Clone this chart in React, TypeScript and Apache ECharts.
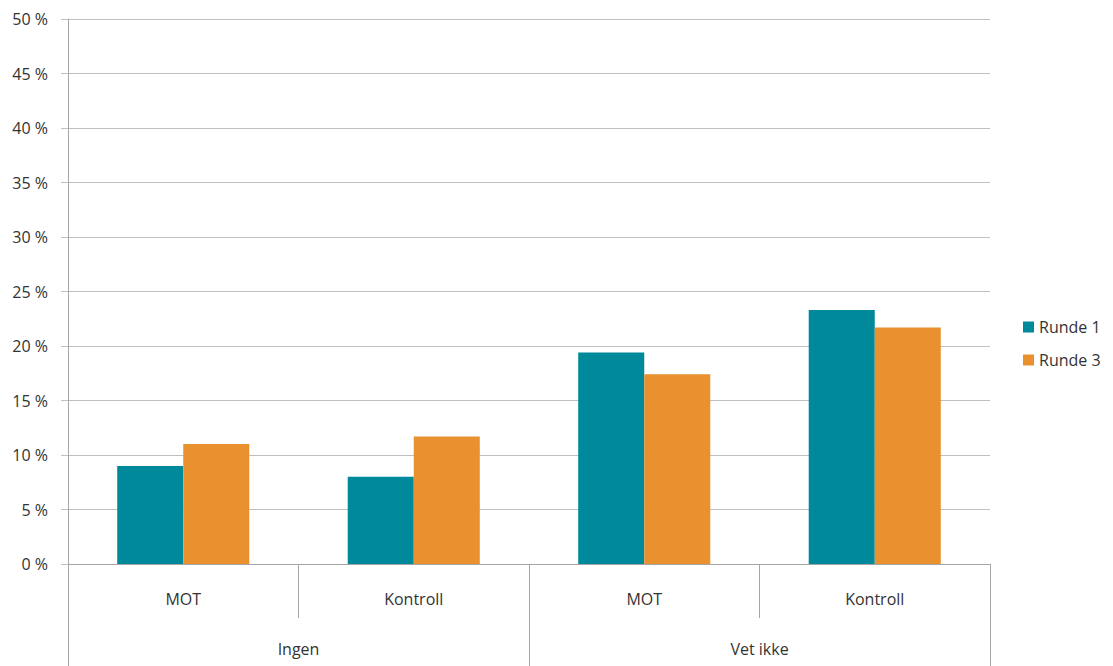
import React, { useEffect, useRef } from "react";
import * as echarts from "echarts";

const subCategories = ["MOT", "Kontroll", "MOT", "Kontroll"];
const groupCategories = ["Ingen", "Vet ikke"];
const runde1 = [9.0, 8.0, 19.4, 23.3];
const runde3 = [11.0, 11.7, 17.4, 21.7];
const seriesNames = ["Runde 1", "Runde 3"];
const yTicks = { min: 0, max: 50, interval: 5 };

const FONT = "'Open Sans', 'Liberation Sans', sans-serif";

export default function App() {
  const ref = useRef<HTMLDivElement>(null);
  useEffect(() => {
    if (!ref.current) return;
    const chart = echarts.init(ref.current, null, { renderer: "svg" });
    chart.setOption({
      animation: false,
      backgroundColor: "#ffffff",
      textStyle: { fontFamily: FONT },
      grid: { left: 68, right: 123, top: 19, bottom: 102, containLabel: false },
      legend: {
        orient: "vertical",
        left: 1018,
        top: 314,
        itemWidth: 11,
        itemHeight: 11,
        itemGap: 17,
        icon: "rect",
        textStyle: { fontSize: 16, color: "#333", fontFamily: FONT },
        data: seriesNames,
      },
      xAxis: [
        {
          type: "category",
          data: subCategories,
          position: "bottom",
          axisLine: { show: true, lineStyle: { color: "#a6a6a6", width: 1 } },
          axisTick: { show: true, interval: 0, length: 54, lineStyle: { color: "#a6a6a6" } },
          axisLabel: { interval: 0, margin: 27, fontSize: 16, color: "#333", fontFamily: FONT },
          splitLine: { show: false },
        },
        {
          type: "category",
          data: groupCategories,
          position: "bottom",
          axisLine: { show: false },
          axisTick: { show: true, interval: 0, length: 102, lineStyle: { color: "#a6a6a6" } },
          axisLabel: { interval: 0, margin: 77, fontSize: 16, color: "#333", fontFamily: FONT },
          splitLine: { show: false },
        },
      ],
      yAxis: {
        type: "value",
        min: yTicks.min,
        max: yTicks.max,
        interval: yTicks.interval,
        axisLine: { show: true, lineStyle: { color: "#a6a6a6" } },
        axisTick: { show: true, length: 7, lineStyle: { color: "#bfbfbf" } },
        axisLabel: { formatter: "{value} %", margin: 20, fontSize: 16, color: "#333", fontFamily: FONT },
        splitLine: { show: true, lineStyle: { color: "#bfbfbf", width: 1 } },
      },
      series: [
        {
          name: seriesNames[0],
          type: "bar",
          xAxisIndex: 0,
          data: runde1,
          itemStyle: { color: "#00899a" },
          barGap: "0%",
          barCategoryGap: "42.7%",
        },
        {
          name: seriesNames[1],
          type: "bar",
          xAxisIndex: 0,
          data: runde3,
          itemStyle: { color: "#e9912f" },
          barGap: "0%",
          barCategoryGap: "42.7%",
        },
      ],
    });
    return () => chart.dispose();
  }, []);
  return (
    <div
      ref={ref}
      style={{ position: "fixed", left: 0, top: 0, width: 1113, height: 666 }}
    />
  );
}
